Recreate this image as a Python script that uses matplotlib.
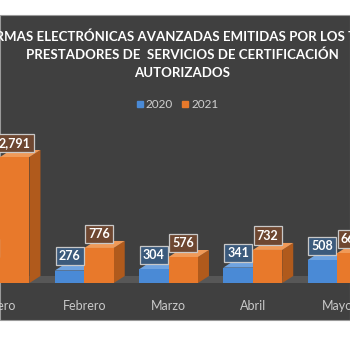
import matplotlib.pyplot as plt
import numpy as np
from matplotlib.patches import Polygon, Rectangle

plt.rcParams['font.family'] = ['Lato', 'DejaVu Sans']

months = ["Enero", "Febrero", "Marzo", "Abril", "Mayo"]
values_2020 = [450, 276, 304, 341, 508]
values_2021 = [2791, 776, 576, 732, 660]
title_lines = ["FIRMAS ELECTRÓNICAS AVANZADAS EMITIDAS POR LOS TRES",
               "PRESTADORES DE  SERVICIOS DE CERTIFICACIÓN",
               "AUTORIZADOS"]

bg = '#404040'
blue = '#4A8AD6'
blue_side = '#2F5F99'
blue_top = '#6FA3E0'
orange = '#E8792B'
orange_side = '#B05A1C'
orange_top = '#F09A58'


def shade_bar(ax, x0, w, h, front, side, top, dx, dy, z):
    x1 = x0 + w
    ax.add_patch(Polygon([(x1, 0), (x1 + dx, dy), (x1 + dx, h + dy), (x1, h)],
                         closed=True, color=side, zorder=z, lw=0))
    ax.add_patch(Polygon([(x0, h), (x1, h), (x1 + dx, h + dy), (x0 + dx, h + dy)],
                         closed=True, color=top, zorder=z, lw=0))
    ax.bar(x0, h, w, align='edge', color=front, zorder=z + 0.5, lw=0)


fig = plt.figure(figsize=(3.5, 3.5), dpi=100)
fig.patch.set_facecolor('white')
fig.patches.append(Rectangle((0, 30 / 350), 1, 305 / 350, transform=fig.transFigure,
                             facecolor=bg, edgecolor='#9A9A9A', lw=0.8, zorder=-5))

ax = fig.add_axes([0, 67 / 350, 1, 268 / 350])
ax.set_zorder(2)
ax.set_facecolor('none')
ymax = 268 * 2791 / 126
ax.set_xlim(0.012, 4.154)
ax.set_ylim(0, ymax)

# 3D depth in data units
px_x = 1 / 84.5
px_y = 2791 / 126
dx = 11 * px_x
dy = 7 * px_y
w = 0.35

x = np.arange(len(months))

# floor
ax.add_patch(Polygon([(-1, 0), (6, 0), (6 + dx, dy), (-1 + dx, dy)], closed=True,
                     color='#575757', zorder=1, lw=0))

for i in x:
    shade_bar(ax, i - w, w, values_2020[i], blue, blue_side, blue_top, dx, dy, 2 + i * 2)
    shade_bar(ax, i, w, values_2021[i], orange, orange_side, orange_top, dx, dy, 3 + i * 2)

for i in x:
    for xc, v, fc in [(i - w / 2, values_2020[i], '#3B5A7C'),
                      (i + w / 2, values_2021[i], '#6E4731')]:
        ax.annotate(f"{v:,}", (xc, v), xytext=(0, 6), textcoords='offset points',
                    ha='center', va='bottom', color='white', fontsize=9,
                    fontweight='bold', zorder=20, annotation_clip=False,
                    bbox=dict(boxstyle='square,pad=0.25', facecolor=fc,
                              edgecolor='#C8C8C8', lw=0.9))

ax.set_xticks(x)
ax.set_xticklabels(months, color='#C9C9C9', fontsize=9)
ax.tick_params(axis='x', length=0, pad=12)
ax.set_yticks([])
for s in ax.spines.values():
    s.set_visible(False)

for k, line in enumerate(title_lines):
    fig.text(182 / 350, 1 - (37 + 18 * k) / 350, line, ha='center', va='center',
             color='white', fontsize=9.5, fontweight='bold')

# legend
ly = 1 - 104 / 350
for lx, lab, c in [(137, "2020", blue), (182, "2021", orange)]:
    fig.patches.append(Rectangle((lx / 350, ly - 3 / 350), 6 / 350, 6 / 350,
                                 transform=fig.transFigure, color=c))
    fig.text((lx + 9) / 350, ly, lab, ha='left', va='center', color='#D0D0D0', fontsize=8.5)

fig.savefig('out.png', dpi=100)
